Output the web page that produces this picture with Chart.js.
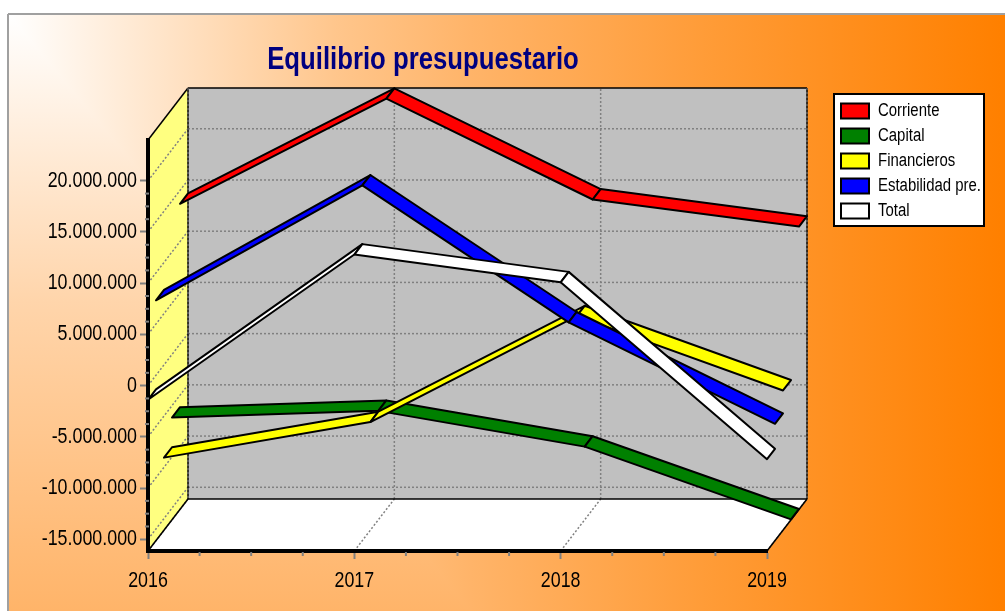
<!DOCTYPE html>
<html><head><meta charset="utf-8">
<style>html,body{margin:0;padding:0;background:#fff}canvas{display:block}</style>
<script src="https://cdn.jsdelivr.net/npm/chart.js@4/dist/chart.umd.js"></script>
</head><body><div style="width:1005px;height:611px"><canvas id="c" width="1005" height="611"></canvas></div>
<script>
const years = ['2016','2017','2018','2019'];
const tickValues = [-15000000,-10000000,-5000000,0,5000000,10000000,15000000,20000000];
const corriente = [13690000,23950000,14110000,11470000];
const capital = [-6160000,-5510000,-9000000,-16100000];
const financieros = [-9060000,-5590000,4750000,-2500000];
const estabilidad = [7310000,18530000,5160000,-4740000];
const total = [-1380000,12800000,10090000,-7180000];
const AXIS_MIN = -16144000, AXIS_MAX = 23980000;
const DX = 40, DY = 52;           // full depth of the 3D box
const NARROW = 0.83;              // horizontal condensing of the text
const FONT = "'Liberation Sans',Arial,sans-serif";

class Ribbon extends Chart.LineController {
  static id = 'ribbon';
  static defaults = Chart.LineController.defaults;
  draw() {
    const ctx = this.chart.ctx, pts = this.getMeta().data, ds = this.getDataset();
    const s = ds.slot, n = 5;
    const ax = DX * s / n, ay = DY * s / n, bx = DX * (s + 1) / n, by = DY * (s + 1) / n;
    ctx.save();
    ctx.lineWidth = 2; ctx.lineJoin = 'round'; ctx.strokeStyle = '#000'; ctx.fillStyle = ds.backgroundColor;
    for (let i = 0; i + 1 < pts.length; i++) {
      const p = pts[i], q = pts[i + 1];
      ctx.beginPath();
      ctx.moveTo(p.x + ax, p.y - ay);
      ctx.lineTo(q.x + ax, q.y - ay);
      ctx.lineTo(q.x + bx, q.y - by);
      ctx.lineTo(p.x + bx, p.y - by);
      ctx.closePath();
      ctx.fill(); ctx.stroke();
    }
    ctx.restore();
  }
}
Chart.register(Ribbon);

function line(ctx, x0, y0, x1, y1) { ctx.beginPath(); ctx.moveTo(x0, y0); ctx.lineTo(x1, y1); ctx.stroke(); }
const shade = t => `rgb(255,${Math.round(255 - 127 * t)},${Math.round(255 - 255 * t)})`;

const stage = {
  id: 'stage',
  beforeDraw(chart) {
    const ctx = chart.ctx, W = chart.width, H = chart.height;
    const xs = chart.scales.x, ys = chart.scales.y;
    const L = xs.left, R = xs.right, T = ys.top, B = ys.bottom;
    ctx.save();
    // page: horizontal and vertical ramps, the stronger one wins
    ctx.fillStyle = '#fff'; ctx.fillRect(0, 0, W, H);
    let g = ctx.createLinearGradient(9, 0, 1000, 0);
    [[0, 0], [0.33, 0.45], [0.466, 0.59], [0.70, 0.78], [1, 1]].forEach(([p, t]) => g.addColorStop(p, shade(t)));
    ctx.fillStyle = g; ctx.fillRect(9, 15, W - 9, H - 15);
    g = ctx.createLinearGradient(0, 15, 0, H);
    [[0, 0], [0.48, 0.33], [1, 0.59]].forEach(([p, t]) => g.addColorStop(p, shade(t)));
    ctx.globalCompositeOperation = 'darken';
    ctx.fillStyle = g; ctx.fillRect(9, 15, W - 9, H - 15);
    ctx.globalCompositeOperation = 'source-over';
    ctx.strokeStyle = '#a0a0a0'; ctx.lineWidth = 2;
    line(ctx, 8, 14, W, 14); line(ctx, 8, 14, 8, H);
    // walls
    ctx.fillStyle = '#c0c0c0'; ctx.fillRect(L + DX, T - DY, R - L, B - T);
    ctx.fillStyle = '#ffff80';
    ctx.beginPath(); ctx.moveTo(L, B); ctx.lineTo(L + DX, B - DY); ctx.lineTo(L + DX, T - DY); ctx.lineTo(L, T); ctx.closePath(); ctx.fill();
    ctx.fillStyle = '#fff';
    ctx.beginPath(); ctx.moveTo(L, B); ctx.lineTo(L + DX, B - DY); ctx.lineTo(R + DX, B - DY); ctx.lineTo(R, B); ctx.closePath(); ctx.fill();
    // dotted grid
    ctx.strokeStyle = '#808080'; ctx.lineWidth = 1.5; ctx.setLineDash([2, 2]);
    tickValues.forEach(v => {
      const y = ys.getPixelForValue(v);
      line(ctx, L, y, L + DX, y - DY);
      line(ctx, L + DX, y - DY, R + DX, y - DY);
    });
    years.forEach((_, i) => {
      const x = xs.getPixelForValue(i);
      line(ctx, x, B, x + DX, B - DY);
      if (i > 0 && i < years.length - 1) line(ctx, x + DX, B - DY, x + DX, T - DY);
    });
    // solid box edges
    ctx.setLineDash([]); ctx.strokeStyle = '#000'; ctx.lineWidth = 1.5;
    line(ctx, L, T, L + DX, T - DY); line(ctx, L + DX, T - DY, R + DX, T - DY);
    line(ctx, L + DX, T - DY, L + DX, B - DY); line(ctx, L + DX, B - DY, R + DX, B - DY);
    line(ctx, L, B, L + DX, B - DY); line(ctx, R, B, R + DX, B - DY);
    line(ctx, R + DX, T - DY, R + DX, B - DY);
    ctx.strokeStyle = '#808080'; ctx.setLineDash([2, 2]); ctx.lineWidth = 1;
    line(ctx, L + DX, T - DY, L + DX, B - DY); line(ctx, R + DX, T - DY, R + DX, B - DY);
    ctx.setLineDash([]);
    // legend frame
    ctx.fillStyle = '#fff'; ctx.strokeStyle = '#000'; ctx.lineWidth = 2;
    ctx.fillRect(834, 94, 150, 132); ctx.strokeRect(834, 94, 150, 132);
    ctx.restore();
    // place legend and title boxes
    const lg = chart.legend; lg.left = 834; lg.right = 984; lg.top = 95; lg.bottom = 227;
    const t = chart.titleBlock; t.left = 123; t.right = 723; t.top = 44; t.bottom = 76;
  },
  afterDraw(chart) {
    const ctx = chart.ctx, xs = chart.scales.x, ys = chart.scales.y;
    ctx.save(); ctx.strokeStyle = '#808080'; ctx.lineWidth = 2;
    for (let i = 0; i + 1 < years.length; i++) {
      const a = xs.getPixelForValue(i), b = xs.getPixelForValue(i + 1);
      for (let k = 1; k < 4; k++) { const x = a + (b - a) * k / 4; line(ctx, x, ys.bottom + 1, x, ys.bottom + 5); }
    }
    for (let i = 0; i + 1 < tickValues.length; i++) {
      const a = ys.getPixelForValue(tickValues[i]), b = ys.getPixelForValue(tickValues[i + 1]);
      for (let k = 1; k < 4; k++) { const y = a + (b - a) * k / 4; line(ctx, xs.left - 3, y, xs.left + 1, y); }
    }
    ctx.restore();
  }
};

const mk = (label, data, color, slot) => ({
  label, data, slot, order: slot, backgroundColor: color, borderColor: '#000', borderWidth: 2,
  pointRadius: 0, clip: false
});

const canvas = document.getElementById('c');
const c2d = canvas.getContext('2d');
const rawFillText = c2d.fillText.bind(c2d);
c2d.fillText = (t, x, y) => rawFillText(t, x, y, c2d.measureText(t).width * NARROW);

new Chart(canvas, {
  type: 'ribbon',
  data: {
    labels: years,
    datasets: [
      mk('Corriente', corriente, '#ff0000', 4),
      mk('Capital', capital, '#008000', 3),
      mk('Financieros', financieros, '#ffff00', 2),
      mk('Estabilidad pre.', estabilidad, '#0000ff', 1),
      mk('Total', total, '#ffffff', 0)
    ]
  },
  options: {
    responsive: false, animation: false,
    layout: { padding: { top: 108, right: 238, left: 0, bottom: 0 } },
    plugins: {
      tooltip: { enabled: false },
      title: { display: true, text: 'Equilibrio presupuestario', color: '#000080', padding: 0,
        font: { family: FONT, size: 31, weight: 'bold', lineHeight: 32 / 31 } },
      legend: { position: 'chartArea', align: 'start',
        labels: { color: '#000', boxWidth: 28, boxHeight: 15, padding: 7, font: { family: FONT, size: 18 },
          sort: (a, b) => a.datasetIndex - b.datasetIndex } }
    },
    scales: {
      x: { type: 'category', offset: false,
        afterFit(s) { s.height = 60; },
        border: { color: '#000', width: 4 },
        grid: { drawOnChartArea: false, drawTicks: true, tickLength: 8, tickColor: '#808080', tickWidth: 2 },
        ticks: { color: '#000', maxRotation: 0, autoSkip: false, padding: 9, font: { family: FONT, size: 21.5 } } },
      y: { type: 'linear', min: AXIS_MIN, max: AXIS_MAX,
        afterFit(s) { s.width = 148; },
        afterBuildTicks(s) { s.ticks = tickValues.map(v => ({ value: v })); },
        border: { color: '#000', width: 4 },
        grid: { drawOnChartArea: false, drawTicks: true, tickLength: 8, tickColor: '#808080', tickWidth: 2 },
        ticks: { color: '#000', padding: 3, font: { family: FONT, size: 21.5 },
          callback: v => new Intl.NumberFormat('de-DE').format(v) } }
    }
  },
  plugins: [stage]
});
</script></body></html>
